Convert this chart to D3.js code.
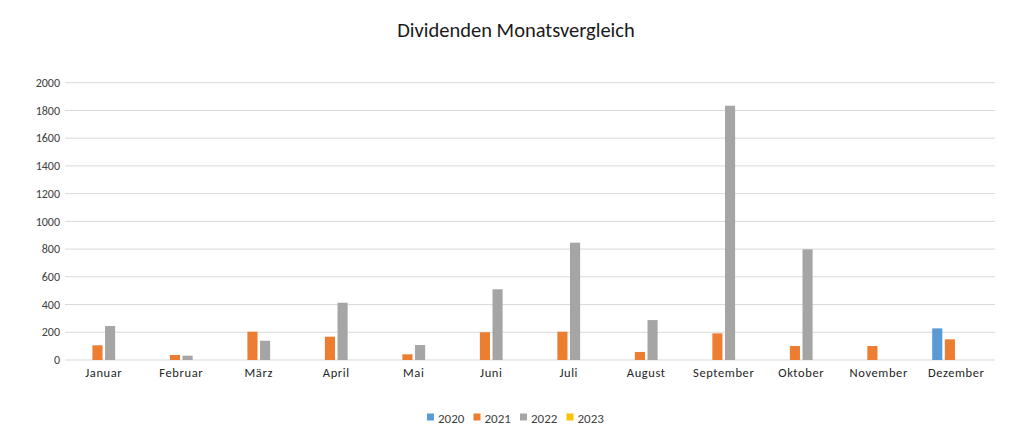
<!DOCTYPE html>
<html>
<head>
<meta charset="utf-8">
<script src="https://cdn.jsdelivr.net/npm/d3@7"></script>
<style>
  body { margin: 0; background: #fff; }
  svg text { font-family: Calibri, Carlito, "Liberation Sans", sans-serif; }
</style>
</head>
<body>
<svg id="chart" width="1024" height="428"></svg>
<script>
var months = ["Januar", "Februar", "März", "April", "Mai", "Juni", "Juli", "August", "September", "Oktober", "November", "Dezember"];
var years = ["2020", "2021", "2022", "2023"];
var colors = ["#5B9BD5", "#ED7D31", "#A5A5A5", "#FFC000"];

var v2020 = [0, 0, 0, 0, 0, 0, 0, 0, 0, 0, 0, 228];
var v2021 = [106, 36, 204, 168, 41, 200, 204, 58, 192, 101, 101, 149];
var v2022 = [245, 31, 139, 413, 108, 510, 846, 288, 1834, 798, 0, 0];
var v2023 = [0, 0, 0, 0, 0, 0, 0, 0, 0, 0, 0, 0];
var series = [v2020, v2021, v2022, v2023];

var yTicks = [0, 200, 400, 600, 800, 1000, 1200, 1400, 1600, 1800, 2000];

var svg = d3.select("#chart");
var margin = {left: 65, right: 29, top: 82.7, bottom: 68};
var width = 1024 - margin.left - margin.right;
var height = 428 - margin.top - margin.bottom;

var g = svg.append("g").attr("transform", "translate(" + margin.left + "," + margin.top + ")");

var x = d3.scaleBand().domain(months).range([0, width]).paddingInner(0.315).paddingOuter(0.158);
var x1 = d3.scaleBand().domain(years).range([0, x.bandwidth()]).padding(0.2);
var y = d3.scaleLinear().domain([0, 2000]).range([height, 0]);

// gridlines
g.selectAll(".grid").data(yTicks).enter().append("line")
    .attr("x1", 0).attr("x2", width)
    .attr("y1", function(d) { return y(d); })
    .attr("y2", function(d) { return y(d); })
    .attr("stroke", "#d9d9d9").attr("stroke-width", 1);

// y labels
g.selectAll(".ylab").data(yTicks).enter().append("text")
    .attr("x", -5).attr("y", function(d) { return y(d); })
    .attr("dy", "0.35em").attr("text-anchor", "end")
    .attr("font-size", 12).attr("fill", "#404040")
    .text(function(d) { return d; });

// bars
var groups = g.selectAll(".month").data(months).enter().append("g")
    .attr("transform", function(d) { return "translate(" + x(d) + ",0)"; });

groups.selectAll("rect")
    .data(function(m, i) { return years.map(function(yr, k) { return {year: yr, k: k, v: series[k][i]}; }); })
    .enter().append("rect")
    .attr("x", function(d) { return x1(d.year); })
    .attr("width", x1.bandwidth())
    .attr("y", function(d) { return y(d.v); })
    .attr("height", function(d) { return height - y(d.v); })
    .attr("fill", function(d) { return colors[d.k]; });

// x labels
g.selectAll(".xlab").data(months).enter().append("text")
    .attr("x", function(d) { return x(d) + x.bandwidth() / 2; })
    .attr("y", height + 17)
    .attr("text-anchor", "middle")
    .attr("font-size", 12.5).attr("letter-spacing", 0.6).attr("fill", "#262626")
    .text(function(d) { return d; });

// title
svg.append("text")
    .attr("x", 516).attr("y", 37)
    .attr("text-anchor", "middle")
    .attr("font-size", 20.5).attr("fill", "#1a1a1a")
    .text("Dividenden Monatsvergleich");

// legend
var leg = svg.append("g").attr("transform", "translate(427,418)");
var items = leg.selectAll("g").data(years).enter().append("g")
    .attr("transform", function(d, i) { return "translate(" + (i * 46.5) + ",0)"; });
items.append("rect").attr("x", 0).attr("y", -4.5).attr("width", 7).attr("height", 7)
    .attr("fill", function(d, i) { return colors[i]; });
items.append("text").attr("x", 11).attr("y", 0).attr("dy", "0.35em")
    .attr("font-size", 13).attr("fill", "#404040")
    .text(function(d) { return d; });
</script>
</body>
</html>
